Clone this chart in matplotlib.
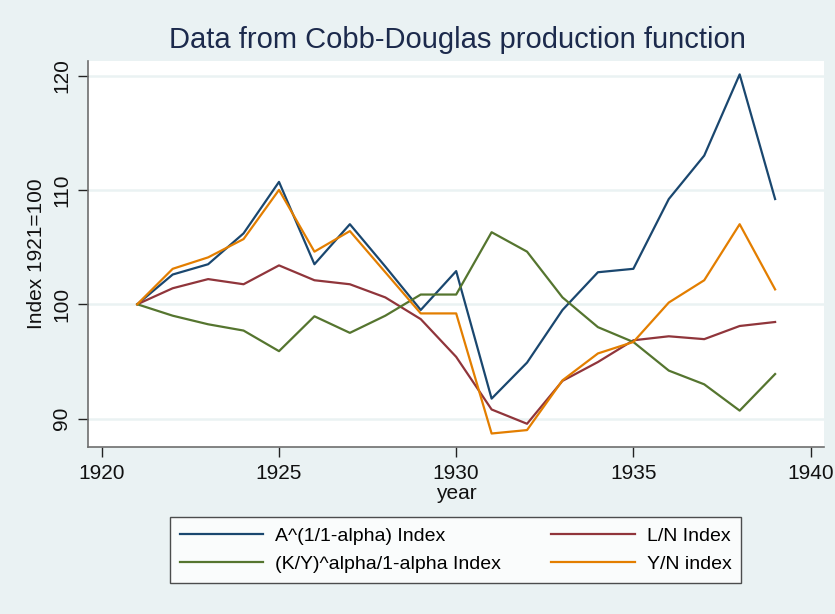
import matplotlib
matplotlib.use("Agg")
import matplotlib.pyplot as plt

years = list(range(1921, 1940))
a_index = [100, 102.6, 103.5, 106.2, 110.7, 103.5, 107.0, 103.3, 99.5, 102.9,
           91.75, 94.9, 99.5, 102.8, 103.1, 109.2, 113.0, 120.1, 109.2]
ln_index = [100, 101.4, 102.2, 101.75, 103.4, 102.1, 101.75, 100.6, 98.7, 95.4,
            90.8, 89.55, 93.3, 94.95, 96.85, 97.2, 96.95, 98.1, 98.45]
ky_index = [100, 99.0, 98.25, 97.7, 95.9, 98.95, 97.5, 99.0, 100.85, 100.85,
            106.3, 104.6, 100.6, 98.0, 96.7, 94.2, 93.0, 90.7, 93.9]
yn_index = [100, 103.1, 104.1, 105.7, 110.0, 104.6, 106.4, 102.8, 99.2, 99.2,
            88.7, 89.0, 93.35, 95.7, 96.7, 100.15, 102.1, 107.0, 101.3]

labels = ["A^(1/1-alpha) Index", "L/N Index", "(K/Y)^alpha/1-alpha Index", "Y/N index"]
xticks = [1920, 1925, 1930, 1935, 1940]
yticks = [90, 100, 110, 120]

plt.rcParams['font.family'] = ['Liberation Sans', 'DejaVu Sans']

bg = '#EAF2F3'
fig = plt.figure(figsize=(8.35, 6.14), dpi=100, facecolor=bg)
W, H = 835, 614
L, R, T, B = 88, 824, 61, 447
ax = fig.add_axes([L / W, 1 - B / H, (R - L) / W, (B - T) / H])
ax.set_facecolor('white')

for yv in yticks:
    ax.axhline(yv, color=bg, lw=1.8, zorder=1)

lw = 1.6
h1, = ax.plot(years, a_index, color='#1A476F', lw=lw, zorder=3)
h2, = ax.plot(years, ln_index, color='#90353B', lw=lw, zorder=3)
h3, = ax.plot(years, ky_index, color='#55752F', lw=lw, zorder=3)
h4, = ax.plot(years, yn_index, color='#E37E00', lw=lw, zorder=3)

ax.set_xlim(1919.61, 1940.38)
ax.set_ylim(87.52, 121.27)
ax.set_xticks(xticks)
ax.set_yticks(yticks)
ax.set_yticklabels([str(v) for v in yticks], rotation=90, va='center')

for s in ['top', 'right']:
    ax.spines[s].set_visible(False)
for s in ['left', 'bottom']:
    ax.spines[s].set_color('#6E6E6E')
    ax.spines[s].set_linewidth(1.2)

ax.tick_params(axis='both', direction='out', length=7, width=1.0, color='#222222',
               labelsize=15, labelcolor='#111111', pad=5)

ax.set_xlabel('year', fontsize=15, color='#111111', labelpad=0)
ax.xaxis.set_label_coords((456 - L) / (R - L), -(484 - B) / (B - T), transform=ax.transAxes)
ax.set_ylabel('Index 1921=100', fontsize=15, color='#111111')
ax.yaxis.set_label_coords(-(L - 46) / (R - L), 0.5)

fig.text(457 / W, 1 - 40 / H, 'Data from Cobb-Douglas production function',
         ha='center', va='center', fontsize=21, color='#1C2A4C')

# matplotlib fills legend column-wise; order so rows read A, L/N / K/Y, Y/N
leg = fig.legend([h1, h3, h2, h4], [labels[0], labels[2], labels[1], labels[3]], ncol=2,
                 loc='center', bbox_to_anchor=(455.5 / W, 1 - 550 / H),
                 fontsize=14, frameon=True, fancybox=False, edgecolor='#222222',
                 handlelength=4.3, handletextpad=0.6, columnspacing=2.6,
                 borderpad=0.5, labelspacing=0.55)
leg.get_frame().set_linewidth(1.0)
leg.get_frame().set_facecolor('white')

fig.savefig('out.png', dpi=100, facecolor=bg)
